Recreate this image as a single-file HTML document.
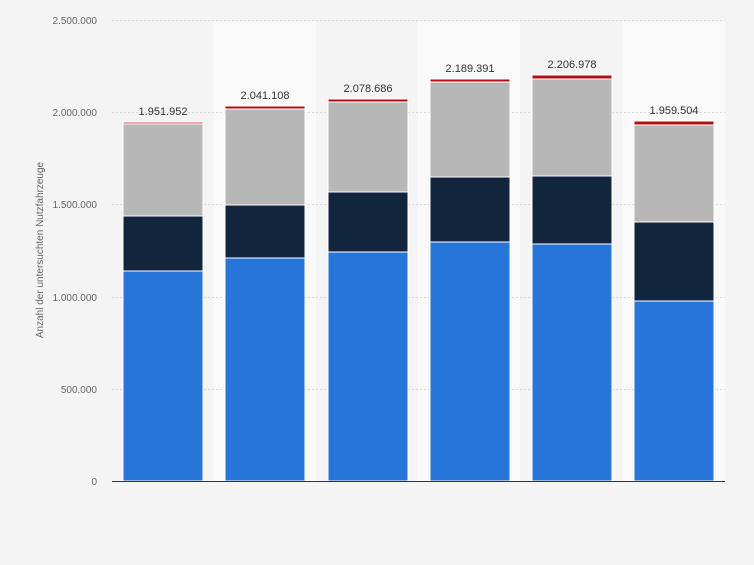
<!DOCTYPE html><html><head><style>
body{margin:0;background:#f4f4f4;font-family:"Liberation Sans",sans-serif}
</style></head><body>
<svg width="754" height="560" xmlns="http://www.w3.org/2000/svg" font-family="Liberation Sans, sans-serif">
<rect width="754" height="560" fill="#f4f4f4"/>
<rect x="213" y="20" width="103" height="461" fill="#f9f9f9"/>
<rect x="418" y="20" width="102" height="461" fill="#f9f9f9"/>
<rect x="622" y="20" width="103" height="461" fill="#f9f9f9"/>
<g stroke="#d8d8d8" stroke-dasharray="2,2" stroke-width="1">
<line x1="112" x2="725" y1="20.5" y2="20.5"/><line x1="112" x2="725" y1="112.5" y2="112.5"/>
<line x1="112" x2="725" y1="204.5" y2="204.5"/><line x1="112" x2="725" y1="297.5" y2="297.5"/>
<line x1="112" x2="725" y1="389.5" y2="389.5"/></g>
<g font-size="10" fill="#666" text-anchor="end">
<text x="97" y="24">2.500.000</text><text x="97" y="116">2.000.000</text><text x="97" y="208">1.500.000</text>
<text x="97" y="301">1.000.000</text><text x="97" y="393">500.000</text><text x="97" y="485">0</text></g>
<text transform="translate(43,250) rotate(-90)" font-size="10" fill="#666" text-anchor="middle">Anzahl der untersuchten Nutzfahrzeuge</text>
<g stroke="#fff" stroke-width="1">
<rect x="123" y="122" width="80" height="2" fill="#e05050"/><rect x="123" y="124" width="80" height="92" fill="#b7b7b7"/><rect x="123" y="216" width="80" height="55" fill="#11263d"/><rect x="123" y="271" width="80" height="210" fill="#2875d9"/>
<rect x="225" y="106" width="80" height="3" fill="#b01010"/><rect x="225" y="109" width="80" height="96" fill="#b7b7b7"/><rect x="225" y="205" width="80" height="53" fill="#11263d"/><rect x="225" y="258" width="80" height="223" fill="#2875d9"/>
<rect x="328" y="99" width="80" height="3" fill="#b01010"/><rect x="328" y="102" width="80" height="90" fill="#b7b7b7"/><rect x="328" y="192" width="80" height="60" fill="#11263d"/><rect x="328" y="252" width="80" height="229" fill="#2875d9"/>
<rect x="430" y="79" width="80" height="3" fill="#b01010"/><rect x="430" y="82" width="80" height="95" fill="#b7b7b7"/><rect x="430" y="177" width="80" height="65" fill="#11263d"/><rect x="430" y="242" width="80" height="239" fill="#2875d9"/>
<rect x="532" y="75" width="80" height="4" fill="#b01010"/><rect x="532" y="79" width="80" height="97" fill="#b7b7b7"/><rect x="532" y="176" width="80" height="68" fill="#11263d"/><rect x="532" y="244" width="80" height="237" fill="#2875d9"/>
<rect x="634" y="121" width="80" height="4" fill="#b01010"/><rect x="634" y="125" width="80" height="97" fill="#b7b7b7"/><rect x="634" y="222" width="80" height="79" fill="#11263d"/><rect x="634" y="301" width="80" height="180" fill="#2875d9"/>
</g>
<g font-size="11" fill="#333" text-anchor="middle">
<text x="163" y="115">1.951.952</text><text x="265" y="99">2.041.108</text><text x="368" y="92">2.078.686</text>
<text x="470" y="72">2.189.391</text><text x="572" y="68">2.206.978</text><text x="674" y="114">1.959.504</text></g>
<line x1="112" x2="725" y1="481.5" y2="481.5" stroke="#333"/>
</svg></body></html>
